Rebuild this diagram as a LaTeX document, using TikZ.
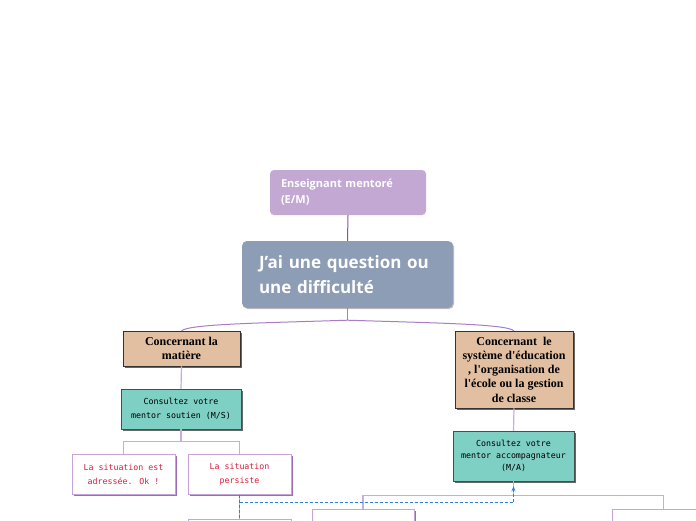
\documentclass[tikz,border=0pt]{standalone}
\usepackage{fontspec}
\setmainfont{Open Sans}
\newfontfamily\serifb{Liberation Serif}
\newfontfamily\monof{DejaVu Sans Mono}
\usetikzlibrary{arrows.meta,shadows}
\definecolor{emfill}{HTML}{C3A8D3}
\definecolor{mainfill}{HTML}{8C9DB5}
\definecolor{tanfill}{HTML}{E2BFA0}
\definecolor{tealfill}{HTML}{7ECFC4}
\definecolor{conn}{HTML}{C9ABDD}
\definecolor{connd}{HTML}{8E4FB5}
\definecolor{redtxt}{HTML}{D6203C}
\definecolor{wborder}{HTML}{C6A3DA}
\definecolor{wshadow}{HTML}{9B6CB8}
\definecolor{bluedash}{HTML}{2D7FE0}
\tikzset{
  emb/.style={fill=emfill, rounded corners=4pt, text=white, font=\fontsize{11}{16}\selectfont\bfseries,
    align=left, inner xsep=11pt, inner ysep=0pt, minimum height=45pt},
  mainb/.style={fill=mainfill, rounded corners=5pt, text=white, font=\fontsize{17}{25}\selectfont\bfseries,
    align=left, inner xsep=17pt, inner ysep=0pt, minimum height=67pt,
    drop shadow={shadow xshift=1pt, shadow yshift=-1pt, opacity=.25, fill=black}},
  tanb/.style={fill=tanfill, draw=black!80, line width=.5pt, font=\serifb\fontsize{12}{14.3}\selectfont\bfseries,
    align=center, inner sep=0pt,
    drop shadow={shadow xshift=2pt, shadow yshift=-2pt, opacity=.85, fill=black!70}},
  tealb/.style={fill=tealfill, draw=black!70, line width=.5pt, font=\monof\fontsize{8.3}{13.5}\selectfont,
    align=center, inner sep=0pt,
    drop shadow={shadow xshift=2pt, shadow yshift=-2pt, opacity=.85, fill=black!70}},
  whiteb/.style={fill=white, draw=wborder, line width=1pt, text=redtxt, font=\monof\fontsize{8.3}{14}\selectfont,
    align=center, inner sep=0pt, minimum width=103pt, minimum height=40pt,
    drop shadow={shadow xshift=2pt, shadow yshift=-2pt, opacity=1, fill=wshadow}},
  cn/.style={draw=conn, line width=1.2pt},
  cnd/.style={draw=connd, line width=1pt},
  bd/.style={draw=bluedash, line width=1pt, dash pattern=on 3pt off 2pt},
}
\begin{document}
\begin{tikzpicture}[x=1pt,y=-1pt]
\useasboundingbox (0,0) rectangle (696,520);
\clip (0,0) rectangle (696,520);
\fill[white] (0,0) rectangle (696,520);
% nodes
\node[emb, text width=134pt] (em) at (348,192.5) {Enseignant mentoré\\(E/M)};
\node[mainb, text width=177pt] (main) at (347.5,274.5) {J'ai une question ou\\une difficulté};
\node[tanb, minimum width=117pt, minimum height=35pt] (tanL) at (181.5,348.5) {Concernant la\\matière};
\node[tanb, minimum width=118pt, minimum height=77pt] (tanR) at (514,369.5) {Concernant\ \ le\\système d'éducation\\, l'organisation de\\l'école ou la gestion\\de classe};
\node[tealb, minimum width=120pt, minimum height=40pt] (tealL) at (181,409) {Consultez votre\\mentor soutien (M/S)};
\node[tealb, minimum width=121pt, minimum height=50pt, font=\monof\fontsize{8.3}{12}\selectfont] (tealR) at (513.5,456) {Consultez votre\\mentor accompagnateur\\(M/A)};
\node[whiteb] (ok) at (123.5,474) {La situation est\\adressée. Ok !};
\node[whiteb] (pers) at (239.5,474) {La situation\\persiste};
\node[whiteb] (b1) at (239.5,539) {};
\node[whiteb, minimum width=102pt] (b2) at (363,529) {};
\node[whiteb] (b3) at (663.5,529) {};
% connectors
\draw[cnd] (em.south) -- (main.north);
\draw[cn, draw=connd!75, line width=1pt] (main.south) -- ++(0,12) coordinate (split);
\draw[cn, draw=connd!75, line width=1pt] (split) .. controls (260,323) and (190,324) .. (tanL.north);
\draw[cn, draw=connd!75, line width=1pt] (split) .. controls (436,323) and (506,324) .. (tanR.north);
\draw[cn] (tanL.south) -- (tealL.north);
\draw[cn] (tanR.south) -- (tealR.north);
\draw[cn] (tealL.south) -- ++(0,12) coordinate (jl);
\draw[cn] (jl) -| (ok.north);
\draw[cn] (jl) -| (pers.north);
\draw[cn] (tealR.south) -- ++(0,14) coordinate (jr);
\draw[cn] (jr) -| (b2.north);
\draw[cn] (jr) -| (b3.north);
\draw[cn] (pers.south) -- (b1.north);
\draw[bd] (pers.south) -- (b1.north);
\draw[bd] (pers.south) -- ++(0,8) coordinate (bk);
\draw[bd, shorten >=5pt, -{Stealth[length=5pt,width=4pt]}] (bk) -- (bk -| tealR.south) -- (tealR.south);
\end{tikzpicture}
\end{document}
